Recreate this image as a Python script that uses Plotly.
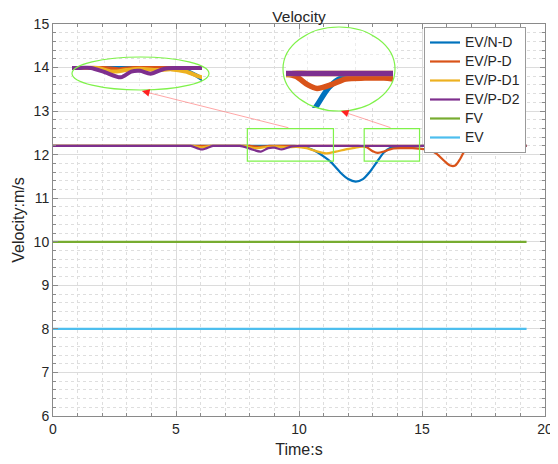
import plotly.graph_objects as go

# ---------------- data ----------------
t_nd = [0, 9.5, 9.8, 10.2, 10.6, 11.0, 11.3, 11.7, 12.0, 12.3, 12.6, 12.9, 13.2, 13.45, 13.7, 14.1, 14.6, 15.0, 15.4, 19.25]
v_nd = [12.2, 12.2, 12.2, 12.18, 12.1, 11.96, 11.83, 11.58, 11.44, 11.38, 11.44, 11.62, 11.86, 12.05, 12.15, 12.16, 12.18, 12.2, 12.2, 12.2]

t_pd = [0, 7.7, 8.0, 8.4, 8.8, 9.1, 12.1, 12.4, 12.75, 13.0, 13.2, 13.5, 13.8, 14.2, 14.6, 15.0, 15.3, 15.6, 15.9, 16.15, 16.35, 16.55, 16.8, 17.0, 17.3, 19.25]
v_pd = [12.2, 12.2, 12.2, 12.18, 12.2, 12.2, 12.2, 12.2, 12.17, 12.08, 12.04, 12.08, 12.14, 12.15, 12.15, 12.13, 12.11, 12.02, 11.86, 11.75, 11.75, 11.9, 12.15, 12.2, 12.2, 12.2]

t_pd1 = [0, 5.4, 5.7, 6.05, 6.4, 6.7, 7.5, 7.8, 8.2, 8.6, 9.0, 9.5, 9.9, 10.3, 10.7, 11.1, 11.5, 11.9, 12.3, 12.7, 13.0, 19.25]
v_pd1 = [12.2, 12.2, 12.2, 12.17, 12.2, 12.2, 12.2, 12.2, 12.15, 12.17, 12.19, 12.17, 12.18, 12.15, 12.08, 12.03, 12.07, 12.12, 12.16, 12.2, 12.2, 12.2]

t_pd2 = [0, 5.3, 5.6, 6.05, 6.5, 6.8, 7.3, 7.6, 8.0, 8.45, 8.75, 9.0, 9.3, 9.7, 10.0, 10.3, 19.25]
v_pd2 = [12.2, 12.2, 12.2, 12.12, 12.2, 12.2, 12.2, 12.2, 12.14, 12.07, 12.15, 12.16, 12.12, 12.19, 12.2, 12.2, 12.2]

t_fv = [0, 19.25]
v_fv = [10, 10]
t_ev = [0, 19.25]
v_ev = [8, 8]

names = ["EV/N-D", "EV/P-D", "EV/P-D1", "EV/P-D2", "FV", "EV"]
colors = ["#0072BD", "#D95319", "#EDB120", "#7E2F8E", "#77AC30", "#4DBEEE"]
times = [t_nd, t_pd, t_pd1, t_pd2, t_fv, t_ev]
values = [v_nd, v_pd, v_pd1, v_pd2, v_fv, v_ev]

# zoom boxes (data coords) and inset ranges
box1_x = [7.9, 11.4]
box2_x = [12.65, 14.9]
box_y = [11.85, 12.6]
inset1_x = [7.06, 10.77]
inset1_y = [11.95, 12.31]
inset2_x = [12.55, 14.79]
inset2_y = [11.83, 12.59]

FONT = "Liberation Sans, Arial, sans-serif"
TXT = "#262626"
GREEN = "#7ff24a"

fig = go.Figure()

for n, t, v, c in zip(names, times, values, colors):
    fig.add_trace(go.Scatter(x=t, y=v, mode="lines", name='<span style="font-size:14px">%s</span>' % n,
                             line=dict(color=c, width=2.2, shape="spline", smoothing=0.8)))

# inset traces
for i in range(4):
    fig.add_trace(go.Scatter(x=times[i], y=values[i], mode="lines", showlegend=False,
                             line=dict(color=colors[i], width=4, shape="spline", smoothing=0.8),
                             xaxis="x2", yaxis="y2", hoverinfo="skip"))
for i in range(4):
    fig.add_trace(go.Scatter(x=times[i], y=values[i], mode="lines", showlegend=False,
                             line=dict(color=colors[i], width=5.5, shape="spline", smoothing=0.8),
                             xaxis="x3", yaxis="y3", hoverinfo="skip"))

# the page body has an 8px margin, so the figure sits at (8, 8) in the window
OFF = 8
W, H = 558 - OFF, 464 - OFF
L, R, T, B = 53 - OFF, 13, 24 - OFF, 48
PW, PH = W - L - R, H - T - B


def px(xp):  # window x pixel -> paper fraction
    return (xp - OFF - L) / PW


def py(yp):  # window y pixel -> paper fraction
    return (H - B - (yp - OFF)) / PH


grid_major = "#dcdcdc"
grid_minor = "#dedede"
axis_col = "#8a8a8a"

common = dict(showline=True, linecolor=axis_col, linewidth=1, mirror="ticks",
              ticks="inside", ticklen=5, tickcolor=axis_col, showgrid=True,
              gridcolor=grid_major, gridwidth=1, zeroline=False, automargin=False,
              tickfont=dict(size=14, color=TXT, family=FONT))

inset_common = dict(showline=False, showticklabels=False, ticks="", zeroline=False,
                    showgrid=True, gridcolor="#ececec", gridwidth=1)

fig.update_layout(
    width=W, height=H,
    margin=dict(l=L, r=R, t=T, b=B, autoexpand=False),
    paper_bgcolor="white", plot_bgcolor="white",
    font=dict(family=FONT, color=TXT),
    title=dict(text="Velocity", x=(L + PW / 2) / W, xanchor="center",
               y=1 - (17 - OFF) / H, yanchor="middle", font=dict(size=15.5, color=TXT, family=FONT)),
    xaxis=dict(range=[0, 20], dtick=5, tick0=0,
               minor=dict(dtick=1, ticks="inside", ticklen=3, tickcolor=axis_col,
                          showgrid=True, gridcolor=grid_minor, griddash="dot"),
               title=dict(text="Time:s", font=dict(size=16, color=TXT, family=FONT), standoff=8),
               **common),
    yaxis=dict(range=[6, 15], dtick=1, tick0=0,
               minor=dict(dtick=0.2, ticks="inside", ticklen=3, tickcolor=axis_col,
                          showgrid=True, gridcolor=grid_minor, griddash="dot"),
               title=dict(text="Velocity:m/s", font=dict(size=16, color=TXT, family=FONT), standoff=5),
               **common),
    xaxis2=dict(domain=[px(72), px(202)], range=inset1_x, anchor="y2", dtick=5, tick0=0,
                minor=dict(dtick=1, showgrid=True, gridcolor="#ececec", griddash="dot"), **inset_common),
    yaxis2=dict(domain=[py(86), py(60)], range=inset1_y, anchor="x2", dtick=1, tick0=0,
                minor=dict(dtick=0.2, showgrid=True, gridcolor="#ececec", griddash="dot"), **inset_common),
    xaxis3=dict(domain=[px(286), px(393)], range=inset2_x, anchor="y3", dtick=5, tick0=0,
                minor=dict(dtick=1, showgrid=True, gridcolor="#ececec", griddash="dot"), **inset_common),
    yaxis3=dict(domain=[py(108), py(37)], range=inset2_y, anchor="x3", dtick=1, tick0=0,
                minor=dict(dtick=0.2, showgrid=True, gridcolor="#ececec", griddash="dot"), **inset_common),
    legend=dict(x=px(424), y=py(27), xanchor="left", yanchor="top",
                bgcolor="white", bordercolor="#9a9a9a", borderwidth=1,
                font=dict(size=11.4, color=TXT, family=FONT), tracegroupgap=0),
    showlegend=True,
)

shapes = []
for bx in (box1_x, box2_x):
    shapes.append(dict(type="rect", xref="x", yref="y", x0=bx[0], x1=bx[1], y0=box_y[0], y1=box_y[1],
                       line=dict(color=GREEN, width=1.2), fillcolor="rgba(0,0,0,0)", layer="above"))
shapes.append(dict(type="circle", xref="paper", yref="paper", x0=px(72), x1=px(209), y0=py(90), y1=py(57),
                   line=dict(color=GREEN, width=1.2), layer="above"))
shapes.append(dict(type="circle", xref="paper", yref="paper", x0=px(283), x1=px(395), y0=py(111), y1=py(27),
                   line=dict(color=GREEN, width=1.2), layer="above"))
fig.update_layout(shapes=shapes)

# arrows: pink line from box to inset, red head at inset
arrows = [((3.62, 13.46), (9.63, 12.61)), ((11.71, 13.0), (13.78, 12.61))]
annots = []
for (tip, tail) in arrows:
    annots.append(dict(x=tip[0], y=tip[1], ax=tail[0], ay=tail[1], xref="x", yref="y",
                       axref="x", ayref="y", text="", showarrow=True, arrowhead=0,
                       arrowwidth=1, arrowcolor="rgba(255,130,130,0.7)"))
    dx = tail[0] - tip[0]
    dy = tail[1] - tip[1]
    dpx = dx * PW / 20
    dpy = -dy * PH / 9
    norm = (dpx ** 2 + dpy ** 2) ** 0.5
    annots.append(dict(x=tip[0], y=tip[1], xref="x", yref="y", ax=dpx / norm * 7, ay=dpy / norm * 7,
                       text="", showarrow=True, arrowhead=2, arrowsize=1, arrowwidth=1.5,
                       arrowcolor="#ff2020"))
fig.update_layout(annotations=annots)

fig.write_html("out.html")
